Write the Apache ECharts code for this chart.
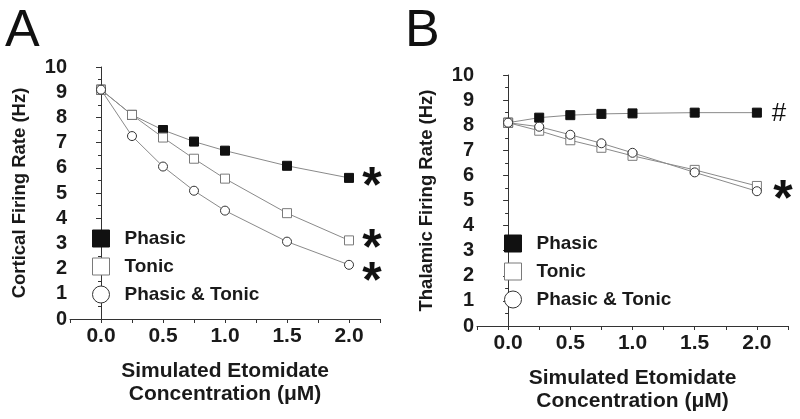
<!DOCTYPE html>
<html><head><meta charset="utf-8">
<script src="https://cdn.jsdelivr.net/npm/echarts@6/dist/echarts.min.js"></script>
<style>html,body{margin:0;padding:0;background:#fff}#c{width:800px;height:419px}</style>
</head><body><div id="c"></div>
<script>
const conc = [0, 0.25, 0.5, 0.75, 1.0, 1.5, 2.0];
const cortPhasic = [9.1, 8.1, 7.5, 7.04, 6.68, 6.08, 5.6];
const cortTonic = [9.1, 8.1, 7.2, 6.36, 5.57, 4.2, 3.12];
const cortBoth = [9.1, 7.26, 6.05, 5.09, 4.3, 3.07, 2.15];
const thalPhasic = [8.1, 8.3, 8.4, 8.45, 8.47, 8.5, 8.5];
const thalTonic = [8.1, 7.78, 7.4, 7.1, 6.78, 6.22, 5.58];
const thalBoth = [8.1, 7.94, 7.62, 7.28, 6.9, 6.12, 5.37];
const xTicks = ['0.0', '0.5', '1.0', '1.5', '2.0'];
const yTicks = ['0','1','2','3','4','5','6','7','8','9','10'];

const FONT = 'Liberation Sans, Arial, sans-serif';
const pair = (ys) => conc.map((x, i) => [x, ys[i]]);

function xAxis(gi) {
  return {
    gridIndex: gi, type: 'value', min: -0.25, max: 2.25, interval: 0.25,
    axisLine: { lineStyle: { color: '#333', width: 1 } },
    axisTick: { length: 4, lineStyle: { color: '#333' } },
    splitLine: { show: false },
    axisLabel: {
      margin: 7, color: '#1a1a1a', fontFamily: FONT, fontWeight: 'bold', fontSize: 21,
      formatter: v => { const k = Math.round(v * 2); return (Math.abs(v * 2 - k) < 1e-6 && v >= 0 && v <= 2) ? xTicks[k] : ''; }
    },
    name: 'Simulated Etomidate\nConcentration (μM)', nameLocation: 'middle', nameGap: 41,
    nameTextStyle: { color: '#1a1a1a', fontFamily: FONT, fontWeight: 'bold', fontSize: 21, lineHeight: 23, verticalAlign: 'top' }
  };
}
function yAxis(gi, name) {
  return {
    gridIndex: gi, type: 'value', min: 0, max: 10, interval: 1,
    axisLine: { show: true, lineStyle: { color: '#333', width: 1 } },
    axisTick: { show: true, length: 5, lineStyle: { color: '#333' } },
    minorTick: { show: true, splitNumber: 2, length: 3, lineStyle: { color: '#333' } },
    splitLine: { show: false },
    axisLabel: { margin: 3, color: '#1a1a1a', fontFamily: FONT, fontWeight: 'bold', fontSize: 20,
      formatter: v => yTicks[Math.round(v)] },
    name: name, nameLocation: 'middle', nameGap: 41,
    nameTextStyle: { color: '#1a1a1a', fontFamily: FONT, fontWeight: 'bold', fontSize: 18.5 }
  };
}
const lineStyle = { color: '#8a8a8a', width: 1 };
function ser(name, data, gi, kind, mark) {
  const s = {
    name, type: 'line', xAxisIndex: gi, yAxisIndex: gi, data: pair(data),
    lineStyle, symbol: kind === 'circle' ? 'circle' : 'rect',
    symbolSize: 9,
    itemStyle: kind === 'phasic' ? { color: '#111', borderColor: '#111', borderWidth: 1 }
      : kind === 'tonic' ? { color: '#fff', borderColor: '#7a7a7a', borderWidth: 1 }
      : { color: '#fff', borderColor: '#333', borderWidth: 1 },
    emphasis: { disabled: true }, z: kind === 'phasic' ? 2 : kind === 'tonic' ? 3 : 4
  };
  if (mark) {
    s.markPoint = {
      symbol: 'circle', symbolSize: 0, silent: true,
      data: [{ coord: [2.0, mark.y], value: mark.t }],
      label: { show: true, formatter: mark.t, offset: mark.off, color: '#111',
        fontFamily: FONT, fontWeight: mark.t === '*' ? 'bold' : 'normal', fontSize: mark.t === '*' ? 50 : 26 }
    };
  }
  return s;
}
function legend(left, top) {
  return {
    left, top, orient: 'vertical', itemWidth: 17, itemHeight: 17, itemGap: 9,
    selectedMode: false,
    textStyle: { color: '#1a1a1a', fontFamily: FONT, fontWeight: 'bold', fontSize: 19, padding: [0, 0, 0, 10] },
    data: [
      { name: 'Phasic', icon: 'rect', itemStyle: { color: '#111', borderColor: '#111', borderWidth: 1 } },
      { name: 'Tonic', icon: 'rect', itemStyle: { color: '#fff', borderColor: '#7a7a7a', borderWidth: 1 } },
      { name: 'Phasic & Tonic', icon: 'circle', itemStyle: { color: '#fff', borderColor: '#333', borderWidth: 1 } }
    ]
  };
}
const chart = echarts.init(document.getElementById('c'), null, { renderer: 'canvas' });
chart.setOption({
  animation: false,
  backgroundColor: '#fff',
  title: [
    { text: 'A', left: 0, top: 1, textStyle: { fontFamily: FONT, fontWeight: 'normal', fontSize: 52, color: '#111' } },
    { text: 'B', left: 400, top: 1, textStyle: { fontFamily: FONT, fontWeight: 'normal', fontSize: 52, color: '#111' } }
  ],
  grid: [
    { left: 70, right: 420, top: 67, bottom: 100 },
    { left: 477, right: 12, top: 75, bottom: 93 }
  ],
  xAxis: [xAxis(0), xAxis(1)],
  yAxis: [yAxis(0, 'Cortical Firing Rate (Hz)'), yAxis(1, 'Thalamic Firing Rate (Hz)')],
  legend: [legend(87, 224), legend(499, 229)],
  series: [
    ser('Phasic', cortPhasic, 0, 'phasic', { y: cortPhasic[6], t: '*', off: [23, 10] }),
    ser('Tonic', cortTonic, 0, 'tonic', { y: cortTonic[6], t: '*', off: [23, 10] }),
    ser('Phasic & Tonic', cortBoth, 0, 'circle', { y: cortBoth[6], t: '*', off: [23, 18] }),
    ser('Phasic', thalPhasic, 1, 'phasic', { y: thalPhasic[6], t: '#', off: [22, 1] }),
    ser('Tonic', thalTonic, 1, 'tonic', { y: (thalTonic[6] + thalBoth[6]) / 2, t: '*', off: [26, 13] }),
    ser('Phasic & Tonic', thalBoth, 1, 'circle')
  ]
});
</script></body></html>
